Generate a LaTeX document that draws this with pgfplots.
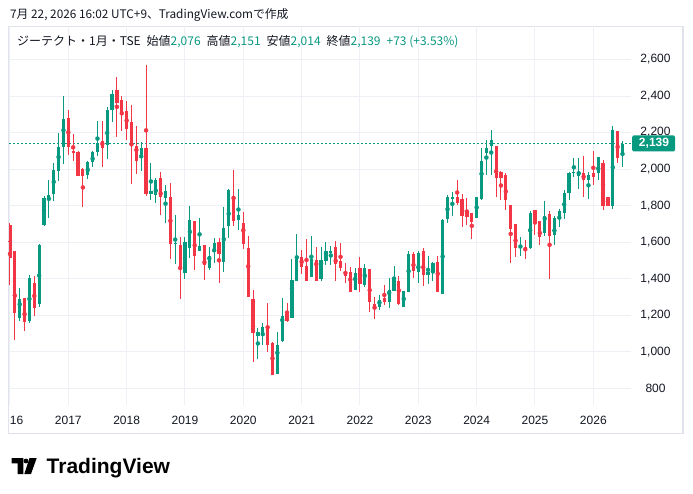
\documentclass[border=0pt]{standalone}
\usepackage{fontspec}
\setmainfont{Liberation Sans}
\newfontfamily\cjk{Noto Sans CJK JP}
\usepackage{pgfplots}
\usepackage{pgfplotstable}
\pgfplotsset{compat=1.18}
\definecolor{tvgreen}{HTML}{089981}
\definecolor{tvred}{HTML}{F23645}
\definecolor{tvgrid}{HTML}{EEF0F5}
\definecolor{tvframe}{HTML}{E0E3EB}
\definecolor{tvtext}{HTML}{131722}

\pgfplotstableread{
i O H L C
2 1186 1349 1170 1289
4 1170 1420 1159 1404
6 1261 1590 1243 1584
7 1694 1854 1690 1840
8 1829 1940 1734 1858
9 1865 2033 1827 1995
10 1991 2196 1936 2121
11 2123 2400 2026 2272
16 1967 2045 1946 2040
17 2040 2100 2013 2095
18 2095 2263 2071 2144
20 2132 2340 2055 2323
21 2323 2433 2259 2411
27 2073 2148 1991 2115
29 1865 2033 1831 1880
30 1860 1951 1812 1940
32 1843 1915 1706 1880
34 1593 1748 1480 1596
36 1432 1626 1400 1600
37 1570 1798 1515 1721
39 1553 1732 1553 1578
41 1460 1573 1449 1524
42 1553 1623 1487 1595
44 1493 1794 1438 1677
45 1690 1889 1622 1885
47 1723 1891 1666 1748
51 1088 1130 960 1108
52 1099 1157 1035 1135
55 880 1108 880 1037
56 1059 1294 1053 1195
58 1186 1508 1186 1393
59 1389 1644 1389 1508
62 1407 1633 1407 1508
64 1398 1575 1389 1502
65 1498 1601 1475 1551
66 1542 1579 1475 1551
71 1338 1458 1338 1431
73 1365 1478 1353 1458
76 1245 1310 1228 1283
78 1274 1404 1241 1338
79 1334 1467 1334 1398
81 1246 1332 1246 1332
82 1329 1553 1329 1535
84 1438 1551 1374 1540
86 1422 1524 1372 1436
87 1444 1493 1385 1486
89 1318 1725 1318 1721
90 1725 1858 1703 1847
91 1834 1876 1743 1845
96 1734 1845 1734 1845
97 1834 2117 1831 2044
98 2090 2159 1967 2115
99 2126 2214 1967 2159
105 1580 1628 1524 1584
107 1570 1770 1560 1758
110 1652 1825 1633 1743
112 1639 1743 1584 1734
113 1739 1783 1685 1770
114 1761 1885 1728 1867
115 1871 1986 1831 1980
116 1980 2061 1958 1984
117 1964 2061 1893 1984
119 1940 1986 1836 1967
121 1980 2066 1940 2066
124 1798 2238 1781 2214
126 2076 2151 2014 2139
}\upT

\pgfplotstableread{
i O H L C
0 1695 1706 1365 1511
1 1551 1551 1064 1214
3 1292 1296 1115 1164
5 1376 1414 1197 1241
12 2280 2323 2079 2123
13 2099 2192 2046 2088
14 2095 2100 1960 1964
15 2000 2005 1794 1964
19 2154 2263 2013 2117
22 2433 2504 2177 2364
23 2378 2400 2210 2314
24 2318 2373 2159 2219
25 2258 2351 1920 2134
26 2126 2236 1973 2046
28 2115 2570 1854 1864
31 1951 1984 1748 1849
33 1847 1924 1509 1591
35 1582 1626 1290 1460
38 1716 1716 1449 1524
40 1584 1584 1394 1475
43 1599 1623 1378 1537
46 1852 1995 1688 1717
48 1705 1765 1564 1591
49 1568 1634 1301 1301
50 1289 1338 942 1104
53 1135 1267 1000 1037
54 1050 1053 874 874
57 1206 1267 1161 1166
60 1517 1557 1427 1466
61 1467 1615 1389 1389
63 1502 1571 1389 1389
67 1573 1606 1389 1482
68 1498 1595 1444 1456
69 1436 1484 1378 1414
70 1436 1462 1329 1329
72 1458 1519 1329 1371
74 1455 1455 1219 1272
75 1261 1301 1181 1252
77 1294 1365 1256 1274
80 1387 1414 1256 1261
83 1535 1548 1402 1442
85 1551 1568 1358 1422
88 1491 1524 1329 1329
92 1845 1940 1803 1816
93 1836 1863 1685 1743
94 1770 1841 1694 1739
95 1759 1759 1619 1712
100 2126 2126 1849 1951
101 1984 1989 1831 1951
102 1967 1980 1776 1831
103 1803 1803 1487 1674
104 1697 1697 1520 1570
106 1575 1612 1509 1571
108 1776 1776 1639 1716
109 1716 1716 1584 1630
111 1754 1770 1400 1633
118 1980 2071 1845 1940
120 1980 2099 1915 1958
122 2035 2050 1776 1798
123 1845 1845 1798 1798
125 2208 2208 2035 2062
}\downT

\begin{document}
\begin{tikzpicture}[x=1pt,y=1pt]
\useasboundingbox (0,0) rectangle (693,-494);
\fill[white] (0,0) rectangle (693,-494);
% header
\node[anchor=west, inner sep=0pt, text=tvtext, font=\cjk\fontsize{11.8}{14}\selectfont] at (10,-15)
  {7月 22, 2026 16:02 UTC+9、TradingView.comで作成};
% frame
\draw[tvframe, line width=1.2pt] (8.5,-26.5) rectangle (683,-433.5);
\begin{axis}[
  at={(9pt,-405pt)}, anchor=south west,
  scale only axis, width=622pt, height=379pt,
  xmin=-0.2, xmax=127.75, ymin=708.2, ymax=2783.3,
  axis line style={draw=none},
  major tick length=0pt,
  xtick={0,12,...,120},
  xticklabels={\hphantom{20}16,2017,2018,2019,2020,2021,2022,2023,2024,2025,2026},
  ytick={800,1000,...,2600},
  yticklabels={800,{1,000},{1,200},{1,400},{1,600},{1,800},{2,000},{2,200},{2,400},{2,600}},
  yticklabel pos=right,
  grid=major, major grid style={tvgrid, line width=1pt},
  yticklabel style={anchor=center, xshift=24.5pt, font=\fontsize{12}{14}\selectfont, text=tvtext},
  xticklabel style={anchor=center, yshift=-15pt, font=\fontsize{12}{14}\selectfont, text=tvtext},
  clip=true,
]
% last price dotted line
\addplot[tvgreen, line width=1.4pt, dash pattern=on 1.6pt off 2.4pt, forget plot] coordinates {(-0.2,2139) (127.75,2139)};
% wicks
\addplot[tvgreen, only marks, mark=none,
  error bars/.cd, y dir=both, y explicit, error mark=none,
  error bar style={line width=1pt, tvgreen}]
  table[x=i, y expr={(\thisrow{H}+\thisrow{L})/2}, y error expr={(\thisrow{H}-\thisrow{L})/2}] {\upT};
\addplot[tvred, only marks, mark=none,
  error bars/.cd, y dir=both, y explicit, error mark=none,
  error bar style={line width=1pt, tvred}]
  table[x=i, y expr={(\thisrow{H}+\thisrow{L})/2}, y error expr={(\thisrow{H}-\thisrow{L})/2}] {\downT};
% bodies
\addplot[tvgreen, only marks, mark=-, mark size=1.6pt, mark options={line width=1pt},
  error bars/.cd, y dir=both, y explicit, error mark=none,
  error bar style={line width=3.2pt, tvgreen}]
  table[x=i, y expr={(\thisrow{O}+\thisrow{C})/2}, y error expr={abs(\thisrow{C}-\thisrow{O})/2}] {\upT};
\addplot[tvred, only marks, mark=-, mark size=1.6pt, mark options={line width=1pt},
  error bars/.cd, y dir=both, y explicit, error mark=none,
  error bar style={line width=3.2pt, tvred}]
  table[x=i, y expr={(\thisrow{O}+\thisrow{C})/2}, y error expr={abs(\thisrow{C}-\thisrow{O})/2}] {\downT};
\end{axis}
% legend line
\node[anchor=west, inner sep=0pt, text=tvtext, font=\cjk\fontsize{12}{14}\selectfont] at (17,-42)
  {ジーテクト・1月・TSE\hspace{6pt}始値\textcolor{tvgreen}{2,076}\hspace{6pt}高値\textcolor{tvgreen}{2,151}\hspace{6pt}安値\textcolor{tvgreen}{2,014}\hspace{6pt}終値\textcolor{tvgreen}{2,139}\hspace{6pt}\textcolor{tvgreen}{+73 (+3.53\%)}};
% price tag
\fill[tvgreen, rounded corners=1.5pt] (632,-135.5) rectangle (675,-151.5);
\node[text=white, inner sep=0pt, font=\bfseries\fontsize{12}{14}\selectfont] at (654,-143.5) {2,139};
% logo
\fill[black] (11.7,-458) -- (23.3,-458) -- (23.3,-474) -- (17.5,-474) -- (17.5,-463.3) -- (11.7,-463.3) -- cycle;
\fill[black] (26,-461) circle (2.4);
\fill[black] (29.5,-458) -- (36.7,-458) -- (31,-474) -- (24.3,-474) -- cycle;
\node[anchor=base west, inner sep=0pt, font=\bfseries\fontsize{21}{23}\selectfont] at (46.5,-473.7) {TradingView};
\end{tikzpicture}
\end{document}
